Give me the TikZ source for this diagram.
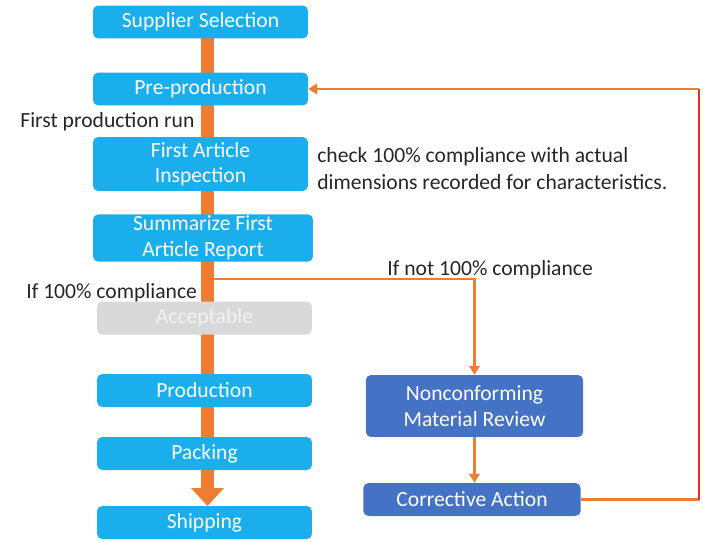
\documentclass[tikz,border=0pt]{standalone}
\usepackage{fontspec}
\setmainfont{Carlito}
\usepackage{tikz}
\usetikzlibrary{positioning,arrows.meta}
\usepackage{xcolor}
\definecolor{stepblue}{HTML}{1AAEEC}
\definecolor{reviewblue}{HTML}{4472C4}
\definecolor{flowor}{HTML}{ED7D31}
\definecolor{loopred}{HTML}{E0302A}
\definecolor{greybox}{HTML}{D9D9D9}

\begin{document}
\begin{tikzpicture}[x=0.02cm,y=-0.02cm,
    font=\fontsize{12.3}{14.5}\selectfont,
    stepbox/.style={rectangle,rounded corners=3pt,fill=stepblue,text=white,
      minimum width=4.3cm,minimum height=0.66cm,inner sep=1pt,align=center},
    reviewbox/.style={stepbox,fill=reviewblue,minimum width=4.35cm},
    note/.style={text=black!85,inner sep=0pt,align=left},
    thin flow/.style={draw=flowor,line width=1.3pt,-{Triangle[width=6pt,length=5pt]}}]
        \useasboundingbox (0,0) rectangle (703,541);
        % main column
        \coordinate (spine) at (207,0);
        \draw[flowor,line width=0.26cm] (207,38) -- (207,490);
        \node[stepbox] (sup) at (200.5,22) {Supplier Selection};
        \node[stepbox] (pre) at (200.5,89) {Pre-production};
        \node[stepbox,minimum height=1.08cm] (fai) at (200.5,164) {First Article\\Inspection};
        \node[stepbox,minimum width=4.4cm,minimum height=0.9cm] (sum) at (203,238) {Summarize First\\Article Report};
        \node[stepbox,fill=greybox,text=white!95!black] (acc) at (204.5,318) {Acceptable};
        \node[stepbox] (prod) at (204.5,390.5) {Production};
        \node[stepbox] (pack) at (204.5,453.5) {Packing};
        \node[stepbox] (ship) at (204.5,522.5) {Shipping};
        \fill[flowor] (191,488) -- (224,488) -- (207.5,506) -- cycle;
        % review branch
        \node[reviewbox,minimum height=1.24cm] (nmr) at (474.5,406) {Nonconforming\\Material Review};
        \node[reviewbox] (ca) at (472,499.5) {Corrective Action};
        \coordinate (fork) at (213,279);
        \coordinate (rb) at (699,499.5);
        \coordinate (rt) at (699,89);
        \draw[thin flow] (fork) -| (nmr.north);
        \draw[thin flow] (nmr.south) -- (nmr.south |- ca.north);
        \draw[flowor,line width=1.3pt] (ca.east) -- (rb);
        \draw[loopred,line width=1.3pt] (rb) -- (rt);
        \draw[thin flow] (rt) -- (pre.east);
        % notes
        \node[note,anchor=west] (run) at (20,122) {First production run};
        \node[note,anchor=west] (chk) at (317,168.5) {check 100\% compliance with actual\\[1pt]dimensions recorded for characteristics.};
        \node[note,anchor=west] (notok) at (387,270) {If not 100\% compliance};
        \node[note,anchor=west] (ok) at (26,293) {If 100\% compliance};
      \end{tikzpicture}
\end{document}
